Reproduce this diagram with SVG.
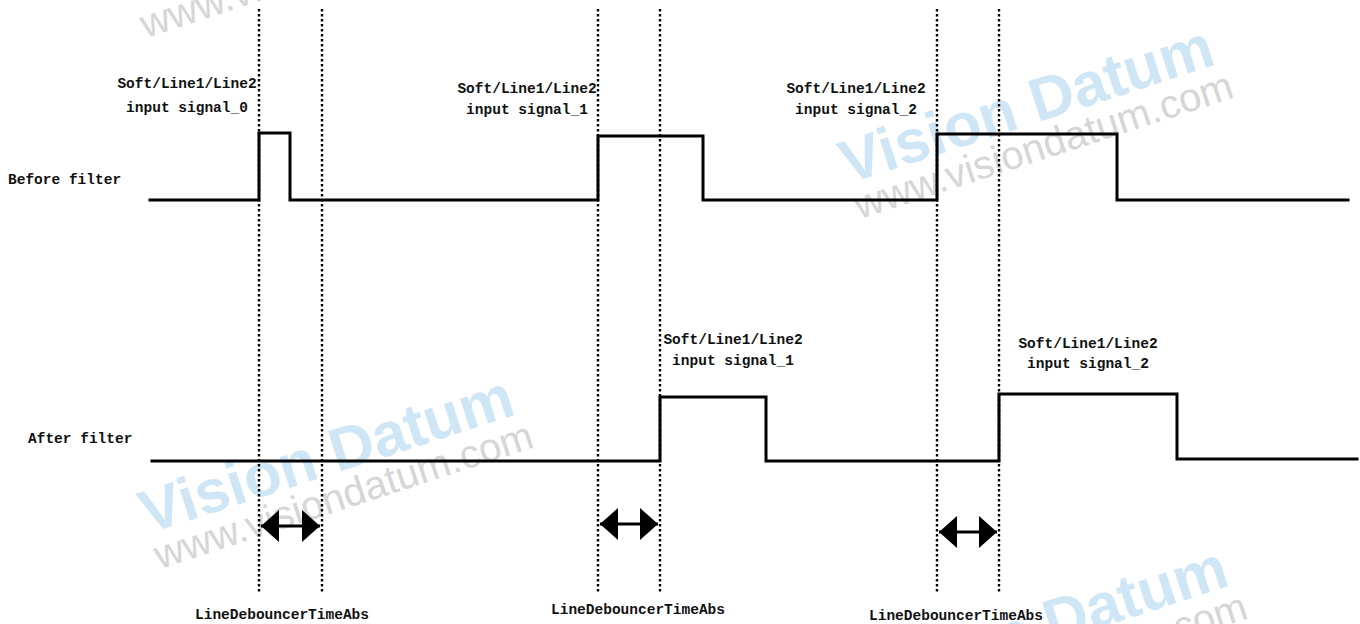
<svg xmlns="http://www.w3.org/2000/svg" xmlns:xlink="http://www.w3.org/1999/xlink" width="1360" height="624" viewBox="0 0 1360 624">
<style>
.lbl{font-family:"Liberation Mono","DejaVu Sans Mono",monospace;font-weight:bold;font-size:14.5px;fill:#111}
.mid{text-anchor:middle}
.sig{fill:none;stroke:#000;stroke-width:3;stroke-linejoin:miter;stroke-linecap:square}
.dot{stroke:#000;stroke-width:2.4;stroke-dasharray:2.4 2.6}
.arr{stroke:#000;stroke-width:3}
.wm1{font-family:"Liberation Sans",Arial,sans-serif;font-weight:bold;font-size:61px;fill:#cfe6f6}
.wm2{font-family:"Liberation Sans",Arial,sans-serif;font-size:40px;fill:#d6d6d6}
</style>
<defs>
<marker id="ah" viewBox="0 0 18 32" refX="18" refY="16" markerWidth="18" markerHeight="32" markerUnits="userSpaceOnUse" orient="auto-start-reverse">
<path d="M0,0 L18,16 L0,32 Z" fill="#000"/>
</marker>
<g id="wm">
<g transform="rotate(-18)">
<text class="wm1" x="0" y="0">Vision Datum</text>
<text class="wm2" x="0" y="37">www.visiondatum.com</text>
</g>
</g>
</defs>
<rect width="1360" height="624" fill="#fff"/>
<g id="watermarks">
<use xlink:href="#wm" transform="translate(134,3)"/>
<use xlink:href="#wm" transform="translate(848,184)"/>
<use xlink:href="#wm" transform="translate(148,534)"/>
<use xlink:href="#wm" transform="translate(862,705)"/>
</g>
<g id="guides">
<line class="dot" x1="259" y1="9" x2="259" y2="593"/>
<line class="dot" x1="322" y1="9" x2="322" y2="593"/>
<line class="dot" x1="598" y1="9" x2="598" y2="593"/>
<line class="dot" x1="660" y1="9" x2="660" y2="593"/>
<line class="dot" x1="937" y1="9" x2="937" y2="594"/>
<line class="dot" x1="999" y1="9" x2="999" y2="594"/>
</g>
<g id="before-filter">
<text class="lbl" x="8" y="184">Before filter</text>
<path class="sig" d="M150,200 H259 V133 H290 V200 H598 V136 H703 V200 H937 V134 H1117 V200 H1348"/>
</g>
<g id="after-filter">
<text class="lbl" x="28" y="443">After filter</text>
<path class="sig" d="M152,461 H660 V397 H766 V461 H999 V394 H1177 V459 H1357"/>
</g>
<g id="label-before-0">
<text class="lbl mid" x="187" y="88">Soft/Line1/Line2</text>
<text class="lbl mid" x="187" y="112">input signal_0</text>
</g>
<g id="label-before-1">
<text class="lbl mid" x="527" y="93">Soft/Line1/Line2</text>
<text class="lbl mid" x="527" y="114">input signal_1</text>
</g>
<g id="label-before-2">
<text class="lbl mid" x="856" y="93">Soft/Line1/Line2</text>
<text class="lbl mid" x="856" y="114">input signal_2</text>
</g>
<g id="label-after-1">
<text class="lbl mid" x="733" y="344">Soft/Line1/Line2</text>
<text class="lbl mid" x="733" y="365">input signal_1</text>
</g>
<g id="label-after-2">
<text class="lbl mid" x="1088" y="348">Soft/Line1/Line2</text>
<text class="lbl mid" x="1088" y="368">input signal_2</text>
</g>
<g id="connectors">
<line class="arr" x1="261" y1="526" x2="320" y2="526" marker-start="url(#ah)" marker-end="url(#ah)"/>
<line class="arr" x1="600" y1="524" x2="658" y2="524" marker-start="url(#ah)" marker-end="url(#ah)"/>
<line class="arr" x1="939" y1="532" x2="997" y2="532" marker-start="url(#ah)" marker-end="url(#ah)"/>
</g>
<g id="debounce-labels">
<text class="lbl mid" x="282" y="619">LineDebouncerTimeAbs</text>
<text class="lbl mid" x="638" y="614">LineDebouncerTimeAbs</text>
<text class="lbl mid" x="956" y="620">LineDebouncerTimeAbs</text>
</g>
</svg>
